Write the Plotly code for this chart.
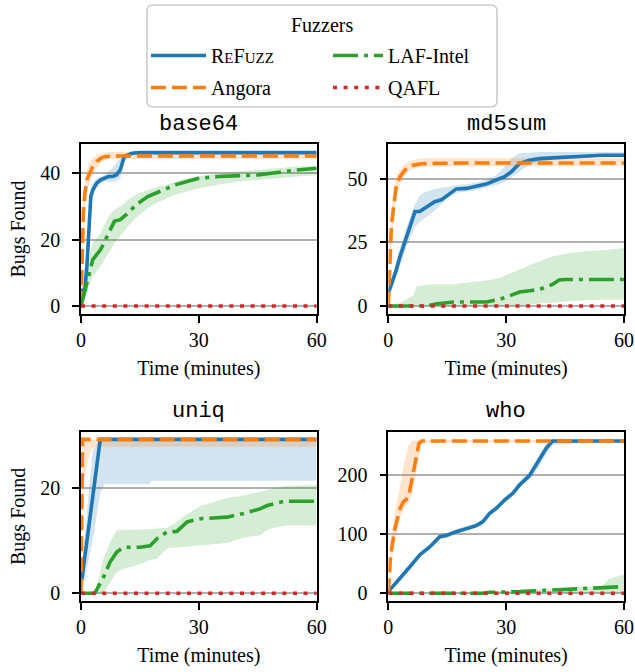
import plotly.graph_objects as go

W, H = 635, 672

# ---------------- data ----------------
X_TICKS = [0, 30, 60]
QAFL_T = [0, 60]
QAFL = [0, 0]

# base64
B64_TICKS = [0, 20, 40]
B64_REFUZZ_T = [0, 0.5, 1, 1.5, 2, 2.5, 3, 4, 5, 6, 7, 8, 9, 10, 10.5, 11, 12, 13, 15, 60]
B64_REFUZZ = [4.5, 4.8, 5, 12, 25, 33, 35, 37, 38, 38.5, 39, 39, 39.5, 41, 43, 45, 45.5, 46, 46.2, 46.2]
B64_REFUZZ_LO = [3, 3.5, 4, 9, 21, 30, 33, 35.5, 37, 37.5, 37.5, 37.5, 37.5, 38.5, 41, 43.5, 45, 45.8, 46, 46]
B64_REFUZZ_HI = [6, 6, 7, 18, 29, 35, 37, 38.5, 39, 39.5, 40.5, 41.5, 43, 44.5, 45.5, 46, 46.2, 46.2, 46.2, 46.2]
B64_ANGORA_T = [0, 0.3, 0.6, 1, 1.5, 2, 3, 4, 5, 6, 7, 8, 10, 15, 20, 25, 30, 60]
B64_ANGORA = [0, 15, 28, 34, 38, 39.5, 42, 43.5, 44.5, 45, 45.2, 45.2, 45.2, 45.2, 45.2, 45.2, 45.2, 45.2]
B64_ANGORA_LO = [0, 10, 22, 30, 34, 36.5, 39.5, 41.5, 43, 44, 44.3, 44.3, 44.3, 44.3, 44.3, 44.3, 44.3, 44.3]
B64_ANGORA_HI = [0, 20, 34, 38, 41, 43, 44.5, 45.5, 46, 46.3, 46.4, 46.4, 46.4, 46.4, 46.4, 46.4, 46, 46]
B64_LAF_T = [0, 1, 2, 3, 5, 7, 8.5, 10, 12, 14, 17, 20, 24, 27, 30, 35, 40, 45, 50, 55, 60]
B64_LAF = [0, 4.5, 10, 14, 17, 22, 25.5, 26, 28, 30.5, 33, 34.5, 36.5, 37.5, 38.5, 39, 39.2, 39.5, 40.2, 41, 41.5]
B64_LAF_LO = [0, 2, 6, 9, 12, 16, 19, 21, 24, 26.5, 29.5, 31.5, 33.5, 34.5, 35.5, 36.5, 37.5, 38, 38.5, 39, 39.5]
B64_LAF_HI = [0, 7, 14, 19, 22, 27, 29, 30, 32, 33.5, 35, 36, 37.5, 38.5, 39, 40, 40.5, 41, 41.5, 42, 42.2]

# md5sum
MD5_TICKS = [0, 25, 50]
MD5_REFUZZ_T = [0, 0.5, 1.3, 2, 3, 4.6, 6.8, 8, 9.7, 11.8, 13.5, 15.2, 17.3, 19.9, 22.4, 24.9, 27.5,
                29.6, 31.3, 33.4, 35.9, 38.5, 41.8, 46, 50.3, 54.5, 60]
MD5_REFUZZ = [5, 7, 10.4, 14, 19.5, 27.3, 37.1, 37.1, 39, 41, 41.7, 43.6, 46, 46.2, 47.1, 47.9, 49.5,
              50.8, 52.7, 56, 57.3, 57.9, 58.2, 58.6, 59, 59.2, 59.2]
MD5_REFUZZ_LO = [4, 5, 8, 11, 16, 23, 31, 33, 35, 37.5, 40, 42.5, 44.5, 45, 45.5, 46.5, 47.5,
                 48.8, 50.5, 52.7, 55.5, 56.5, 57.5, 58, 58.5, 58.6, 58.6]
MD5_REFUZZ_HI = [6, 9, 13, 17, 23, 31, 40, 43.5, 45, 46, 46.5, 47, 47.5, 47.8, 48.5, 49.5, 51.5,
                 54.7, 58, 60, 60.3, 60.5, 60.5, 60.5, 60.5, 60.5, 60.5]
MD5_ANGORA_T = [0, 0.4, 0.8, 1.3, 2, 3, 4, 5, 6, 8, 10, 20, 30, 40, 50, 60]
MD5_ANGORA = [0, 22, 32, 38, 47, 50.8, 53, 54.5, 55.2, 55.8, 56, 56.2, 56.2, 56.2, 56.2, 56.2]
MD5_ANGORA_LO = [0, 15, 26, 33, 43, 48, 51, 52.5, 53.8, 54.5, 54.8, 55, 55, 55, 55, 55]
MD5_ANGORA_HI = [0, 28, 38, 44, 51, 53.5, 55.5, 56.5, 57.3, 57.8, 58, 58, 58, 58, 58, 58]
MD5_LAF_T = [0, 3, 6.3, 7.2, 10, 12, 16.5, 25, 28.3, 30, 33.4, 36, 38.5, 41.8, 43.5, 45, 50, 55, 60]
MD5_LAF = [0, 0, 0, 0, 0, 0.8, 1.6, 1.6, 2.6, 3.5, 5.5, 6, 6.5, 8.5, 10.2, 10.4, 10.4, 10.4, 10.4]
MD5_LAF_LO = [0, 0, 0, 0, 0, 0, 0, 0, 0, 0, 0, 0.5, 1, 1.3, 1.5, 1.8, 2.3, 2.5, 2.5]
MD5_LAF_HI = [0, 1.3, 3.9, 7.8, 8.3, 8.5, 8.5, 10, 11, 12, 14.3, 16, 17.6, 19.5, 20, 20.5, 21.5, 22, 22.8]

# uniq
UNIQ_TICKS = [0, 20]
UNIQ_REFUZZ_T = [0.2, 3, 4.9, 6, 17.5, 18, 60]
UNIQ_REFUZZ = [2.5, 18.5, 29.1, 29.1, 29.1, 29.1, 29.1]
UNIQ_REFUZZ_LO = [0, 10, 19, 20.6, 20.6, 21.3, 21.3]
UNIQ_REFUZZ_HI = [5, 27, 29.1, 29.1, 29.1, 29.1, 29.1]
UNIQ_ANGORA_T = [0, 0.4, 1, 2, 3, 4, 60]
UNIQ_ANGORA = [0, 29.1, 29.1, 29.1, 29.1, 29.1, 29.1]
UNIQ_ANGORA_LO = [0, 15, 22, 26, 27.5, 27.7, 27.7]
UNIQ_ANGORA_HI = [0, 29.1, 29.1, 29.1, 29.1, 29.1, 29.1]
UNIQ_LAF_T = [0, 3.5, 5.7, 7.4, 9.1, 10.8, 15, 17.6, 19.3, 21.9, 24.4, 27, 30.4, 37.2, 41.4, 45.7,
              47.4, 51.7, 60]
UNIQ_LAF = [0, 0, 3, 5.9, 7.8, 8.7, 8.7, 9, 10.3, 11.6, 11.7, 13.5, 14.1, 14.4, 15.1, 16, 16.6, 17.4, 17.4]
UNIQ_LAF_LO = [0, 0, 0, 2, 4, 4.6, 5.5, 6.3, 6.5, 8.5, 8.7, 8.8, 9, 9.5, 10.5, 11, 12, 12.8, 12.8]
UNIQ_LAF_HI = [0, 0, 6.5, 9.7, 11.9, 12, 12, 12.1, 12.2, 12.4, 13.5, 15, 16.5, 18, 18.5, 19.3, 19.6, 20.3, 20.5]

# who
WHO_TICKS = [0, 100, 200]
WHO_REFUZZ_T = [0, 3, 5.5, 8, 10.6, 13.1, 14.8, 17.3, 19.9, 22.4, 24.1, 25.8, 27.5, 29.6, 31.7, 33.4,
                35.9, 38.5, 40.2, 41.8, 60]
WHO_REFUZZ = [3, 25, 45, 65, 79, 96, 98, 104.5, 110, 114.7, 121.5, 135.6, 144, 158, 169.5, 183.6,
              199, 226, 245.8, 258.2, 258.2]
WHO_REFUZZ_LO = [0, 21, 41, 61, 75, 92, 94, 100, 106, 111, 117, 131, 140, 154, 165, 179,
                 193, 216, 236, 252, 258]
WHO_REFUZZ_HI = [5, 29, 49, 69, 83, 100, 102, 109, 114, 119, 126, 140, 149, 163, 175, 190,
                 207, 236, 255, 260.9, 258.5]
WHO_ANGORA_T = [0, 0.6, 1.7, 3, 3.8, 5.1, 5.9, 6.8, 7.8, 8.5, 60]
WHO_ANGORA = [0, 65, 110, 144, 155, 162, 189, 217.5, 254, 258.2, 258.2]
WHO_ANGORA_LO = [0, 45, 90, 128, 142, 152, 165, 192, 232, 255, 257]
WHO_ANGORA_HI = [0, 90, 140, 180, 215, 250, 258, 259, 260, 260.5, 260]
WHO_LAF_T = [0, 20, 24, 25.8, 33.4, 41.8, 46, 50.3, 54.5, 56, 60]
WHO_LAF = [0, 0, 0, 1.7, 2.8, 5.6, 6.8, 8, 9.6, 11, 11.3]
WHO_LAF_LO = [0, 0, 0, 0, 0, 0, 0, 0, 0, 0, 0]
WHO_LAF_HI = [0, 1, 2, 3, 5, 8, 10, 11, 12, 24, 32]

FUZZERS = ["ReFuzz", "Angora", "LAF-Intel", "QAFL"]
LEGEND_NAMES = ["R<span style='font-size:15px'>E</span>F<span style='font-size:15px'>UZZ</span>",
                "Angora", "LAF-Intel", "QAFL"]

# ---------------- styling ----------------
COLORS = ["#1f77b4", "#ff7f0e", "#2ca02c", "#d62728"]
BANDS = ["rgba(31,119,180,0.2)", "rgba(255,127,14,0.2)", "rgba(44,160,44,0.2)", "rgba(214,39,40,0.2)"]
DASHES = ["solid", "15px,6px", "25px,6px,4px,6px", "4px,6.6px"]
LW = 3.6
SERIF = "Liberation Serif"
MONO = "Liberation Mono"

PANELS = [
    ("base64", B64_TICKS, [(B64_REFUZZ_T, B64_REFUZZ, B64_REFUZZ_LO, B64_REFUZZ_HI),
                           (B64_ANGORA_T, B64_ANGORA, B64_ANGORA_LO, B64_ANGORA_HI),
                           (B64_LAF_T, B64_LAF, B64_LAF_LO, B64_LAF_HI),
                           (QAFL_T, QAFL, None, None)]),
    ("md5sum", MD5_TICKS, [(MD5_REFUZZ_T, MD5_REFUZZ, MD5_REFUZZ_LO, MD5_REFUZZ_HI),
                           (MD5_ANGORA_T, MD5_ANGORA, MD5_ANGORA_LO, MD5_ANGORA_HI),
                           (MD5_LAF_T, MD5_LAF, MD5_LAF_LO, MD5_LAF_HI),
                           (QAFL_T, QAFL, None, None)]),
    ("uniq", UNIQ_TICKS, [(UNIQ_REFUZZ_T, UNIQ_REFUZZ, UNIQ_REFUZZ_LO, UNIQ_REFUZZ_HI),
                          (UNIQ_ANGORA_T, UNIQ_ANGORA, UNIQ_ANGORA_LO, UNIQ_ANGORA_HI),
                          (UNIQ_LAF_T, UNIQ_LAF, UNIQ_LAF_LO, UNIQ_LAF_HI),
                          (QAFL_T, QAFL, None, None)]),
    ("who", WHO_TICKS, [(WHO_REFUZZ_T, WHO_REFUZZ, WHO_REFUZZ_LO, WHO_REFUZZ_HI),
                        (WHO_ANGORA_T, WHO_ANGORA, WHO_ANGORA_LO, WHO_ANGORA_HI),
                        (WHO_LAF_T, WHO_LAF, WHO_LAF_LO, WHO_LAF_HI),
                        (QAFL_T, QAFL, None, None)]),
]

# pixel boxes (window coordinates) of the four axes
COLS = [(81, 316.7), (388.3, 624)]
ROWS = [(144.3, 313.7), (431.7, 601)]


def px(x):
    return x / W


def py(y):
    return 1 - y / H


fig = go.Figure()
layout = dict(width=W, height=H, margin=dict(l=0, r=0, t=0, b=0, autoexpand=False), autosize=False,
              plot_bgcolor="white", paper_bgcolor="white", showlegend=True)
annotations = []

for i, (title, yticks, series) in enumerate(PANELS):
    r, c = divmod(i, 2)
    sfx = "" if i == 0 else str(i + 1)
    xa, ya = "x" + sfx, "y" + sfx
    x0, x1 = COLS[c]
    y0, y1 = ROWS[r]
    allv = []
    for (t, m, lo, hi) in series:
        allv += m + (lo or []) + (hi or [])
    vmin, vmax = min(allv), max(allv)
    pad = 0.05 * (vmax - vmin)
    for k, (t, m, lo, hi) in enumerate(series):
        if lo is None:
            continue
        fig.add_trace(go.Scatter(x=list(t) + list(t)[::-1], y=list(hi) + list(lo)[::-1],
                                 fill="toself", fillcolor=BANDS[k], line=dict(width=0),
                                 mode="lines", hoverinfo="skip", showlegend=False,
                                 xaxis=xa, yaxis=ya))
    for k, (t, m, lo, hi) in enumerate(series):
        fig.add_trace(go.Scatter(x=t, y=m, mode="lines", name=LEGEND_NAMES[k],
                                 line=dict(color=COLORS[k], width=LW, dash=DASHES[k]),
                                 showlegend=(i == 0),
                                 legend="legend" if k in (0, 1) else "legend2",
                                 legendgroup=FUZZERS[k],
                                 xaxis=xa, yaxis=ya))
    axcommon = dict(showline=True, mirror=True, linecolor="black", linewidth=1.6,
                    ticks="outside", ticklen=7, tickwidth=1.6, tickcolor="black",
                    zeroline=False, automargin=False, ticklabeloverflow="allow",
                    tickfont=dict(family=SERIF, size=20, color="black"))
    layout["xaxis" + sfx] = dict(domain=[px(x0), px(x1)], range=[0, 60], tickvals=X_TICKS,
                                 showgrid=False, anchor=ya,
                                 title=dict(text="Time (minutes)", standoff=11,
                                            font=dict(family=SERIF, size=20, color="black")),
                                 ticklabelstandoff=0, **axcommon)
    ydict = dict(domain=[py(y1), py(y0)], range=[vmin - pad, vmax + pad], tickvals=yticks,
                 showgrid=True, gridcolor="#b0b0b0", gridwidth=1.6, anchor=xa,
                 ticklabelstandoff=8, **axcommon)
    if c == 0:
        ydict["title"] = dict(text="Bugs Found", standoff=9,
                              font=dict(family=SERIF, size=20, color="black"))
    layout["yaxis" + sfx] = ydict
    annotations.append(dict(text=title, x=px((x0 + x1) / 2), y=py(y0 - 20),
                            xref="paper", yref="paper", showarrow=False,
                            xanchor="center", yanchor="middle",
                            font=dict(family=MONO, size=22, color="black")))

# legend frame and title
bx0, bx1, by0, by1, rad = 147, 497, 5, 107, 6
path = (f"M{px(bx0 + rad)},{py(by0)} L{px(bx1 - rad)},{py(by0)} Q{px(bx1)},{py(by0)} {px(bx1)},{py(by0 + rad)} "
        f"L{px(bx1)},{py(by1 - rad)} Q{px(bx1)},{py(by1)} {px(bx1 - rad)},{py(by1)} "
        f"L{px(bx0 + rad)},{py(by1)} Q{px(bx0)},{py(by1)} {px(bx0)},{py(by1 - rad)} "
        f"L{px(bx0)},{py(by0 + rad)} Q{px(bx0)},{py(by0)} {px(bx0 + rad)},{py(by0)} Z")
layout["shapes"] = [dict(type="path", path=path, xref="paper", yref="paper",
                         line=dict(color="#cccccc", width=1.6), fillcolor="white", layer="below")]
annotations.append(dict(text="Fuzzers", x=px(322), y=py(25), xref="paper", yref="paper",
                        showarrow=False, xanchor="center", yanchor="middle",
                        font=dict(family=SERIF, size=20, color="black")))
layout["annotations"] = annotations

legfont = dict(family=SERIF, size=20, color="black")
layout["legend"] = dict(x=px(146), y=py(36), xanchor="left", yanchor="top", bgcolor="rgba(0,0,0,0)",
                        font=legfont, itemwidth=55, tracegroupgap=3, traceorder="grouped")
layout["legend2"] = dict(x=px(328), y=py(36), xanchor="left", yanchor="top", bgcolor="rgba(0,0,0,0)",
                         font=legfont, itemwidth=50, tracegroupgap=3, traceorder="grouped")

fig.update_layout(**layout)
# remove the default page margin so the 635x672 figure fills the window exactly
fig.write_html("out.html", config={"displayModeBar": False},
               post_script="document.body.style.margin='0';document.body.style.overflow='hidden';")
